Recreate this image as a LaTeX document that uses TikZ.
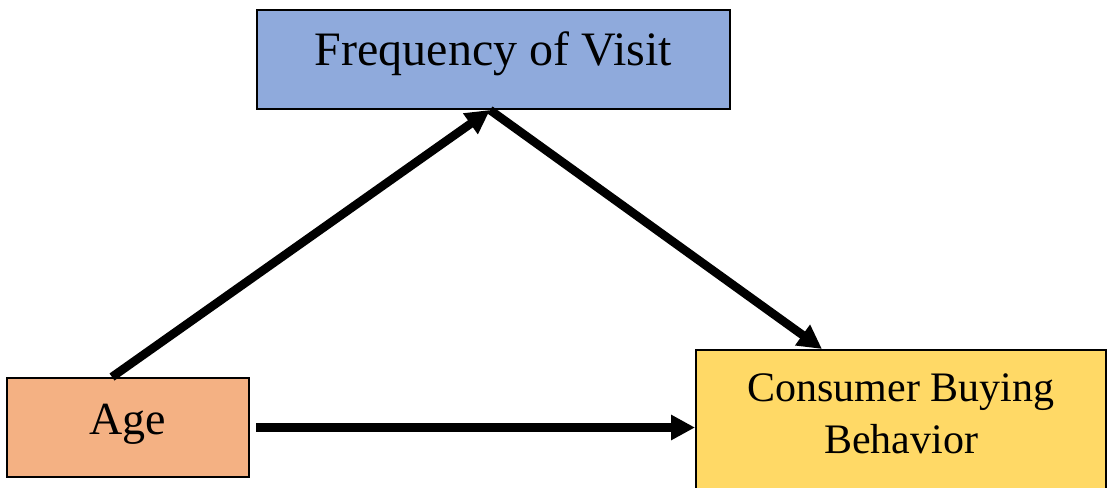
\documentclass[tikz,border=0pt]{standalone}
\usepackage{fontspec}
\setmainfont{Liberation Serif}
\usetikzlibrary{arrows.meta}
\definecolor{freqblue}{HTML}{8FAADC}
\definecolor{ageorange}{HTML}{F4B183}
\definecolor{cbbyellow}{HTML}{FFD966}
\tikzset{
  varbox/.style={draw=black, line width=1pt, rectangle, inner sep=0pt},
  pathline/.style={line width=4.3pt, -{Triangle[length=12pt,width=12pt]}}
}
\begin{document}
\begin{tikzpicture}[x=0.5pt,y=-0.5pt]
	\useasboundingbox (0,0) rectangle (1107,487);
	\node[varbox, fill=freqblue, minimum width=236.5pt, minimum height=49.5pt,
	      font=\fontsize{24}{28}\selectfont, text height=16pt, text depth=10pt] (freq) at (493.5,59.5) {Frequency of Visit};
	\node[varbox, fill=ageorange, minimum width=121pt, minimum height=49.5pt,
	      font=\fontsize{23}{27}\selectfont, text height=15pt, text depth=8pt] (age) at (128,427.5) {Age};
	\node[varbox, fill=cbbyellow, minimum width=205pt, minimum height=80pt, align=center,
	      font=\fontsize{21}{26}\selectfont, text height=28pt, text depth=5pt] (cbb) at (901,430) {Consumer Buying\\Behavior};
	\draw[pathline] ([xshift=-8pt]age.north) -- ([xshift=-1.75pt]freq.south);
	\draw[pathline] ([xshift=-1.75pt]freq.south) -- ([xshift=-39.5pt]cbb.north);
	\draw[pathline] ([xshift=3pt]age.east) -- (cbb.west |- age.east);
\end{tikzpicture}
\end{document}
